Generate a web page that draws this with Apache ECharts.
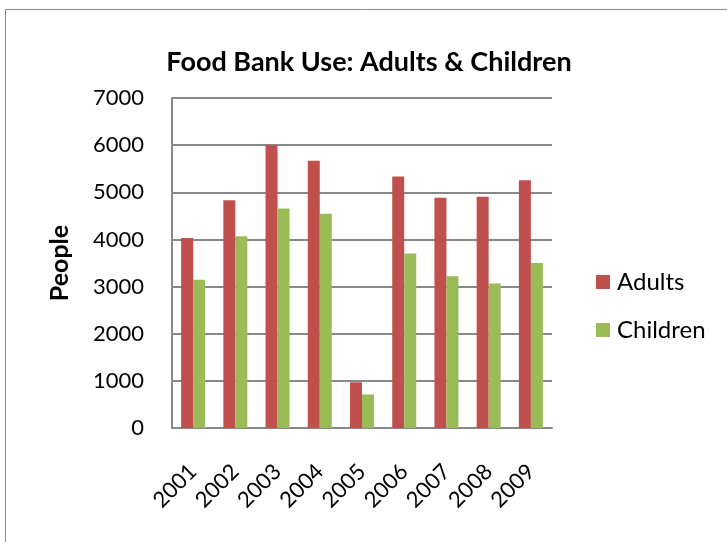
<!DOCTYPE html>
<html><head><meta charset="utf-8">
<script src="https://cdn.jsdelivr.net/npm/echarts@6/dist/echarts.min.js"></script>
<style>html,body{margin:0;padding:0;background:#fff}#c{width:727px;height:542px}</style>
</head><body><div id="c"></div>
<script>
var categories = ['2001','2002','2003','2004','2005','2006','2007','2008','2009'];
var adults = [4030, 4830, 6000, 5670, 970, 5335, 4885, 4905, 5257];
var children = [3143, 4066, 4658, 4545, 712, 3700, 3221, 3066, 3502];
var FONT = 'Lato';
var chart = echarts.init(document.getElementById('c'));
chart.setOption({
  animation: false,
  backgroundColor: '#fff',
  graphic: [{type:'rect', shape:{x:5.5,y:9.5,width:800,height:600}, style:{fill:'none', stroke:'#8a8a8a', lineWidth:1}}],
  title: {text: 'Food Bank Use: Adults & Children', left: 364, top: 44, textAlign: 'center',
    textStyle: {fontFamily: FONT, fontWeight: 'bold', fontSize: 27, color: '#000'}},
  legend: {orient: 'vertical', left: 591, top: 265, itemWidth: 14, itemHeight: 14, itemGap: 24, icon: 'rect',
    textStyle: {fontFamily: FONT, fontSize: 24, color: '#000', padding:[0,0,0,2]},
    data: ['Adults','Children']},
  grid: {left: 172, right: 175, top: 98, bottom: 114},
  xAxis: {type: 'category', data: categories,
    axisLine: {lineStyle: {color: '#888', width: 2}},
    axisTick: {show: false},
    axisLabel: {rotate: 45, margin: 40, fontFamily: FONT, fontSize: 22, color: '#000', interval: 0}},
  yAxis: {type: 'value', min: 0, max: 7000, interval: 1000,
    name: 'People', nameLocation: 'middle', nameGap: 100, nameRotate: 90,
    nameTextStyle: {fontFamily: FONT, fontWeight: 'bold', fontSize: 25, color: '#000'},
    axisLine: {show: true, lineStyle: {color: '#888', width: 2}},
    axisTick: {show: false},
    splitLine: {lineStyle: {color: '#888', width: 2}},
    axisLabel: {margin: 28, fontFamily: FONT, fontSize: 22, color: '#000', formatter: function(v){return String(v);}}},
  series: [
    {name: 'Adults', type: 'bar', data: adults, barWidth: 12, barGap: '0%', itemStyle: {color: '#C0504D'}},
    {name: 'Children', type: 'bar', data: children, barWidth: 12, barGap: '0%', itemStyle: {color: '#9BBB59'}}
  ]
});
</script></body></html>
